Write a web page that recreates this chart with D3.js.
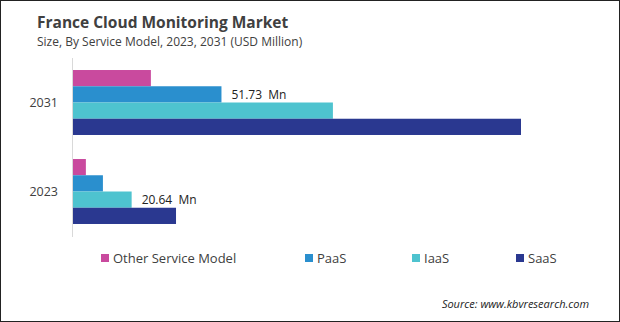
<!DOCTYPE html>
<html>
<head>
<meta charset="utf-8">
<script src="https://cdn.jsdelivr.net/npm/d3@7"></script>
<style>
  body { margin: 0; background: #fff; }
  svg { display: block; font-family: "Open Sans", "Noto Sans", sans-serif; }
</style>
</head>
<body>
<svg id="chart" width="620" height="322"></svg>
<script>
const years = ["2031", "2023"];
const series = ["Other Service Model", "PaaS", "IaaS", "SaaS"];
const colors = ["#c94a9e", "#2a8fce", "#4ec3cf", "#2a3890"];
// values per year, same order as series (USD Million)
const values2031 = [27.3, 51.73, 90.3, 155.4];
const values2023 = [4.8, 10.7, 20.64, 36.0];
const labels = [{year: "2031", series: "PaaS", text: "51.73  Mn"},
                {year: "2023", series: "IaaS", text: "20.64  Mn"}];

const data = years.map((y, i) => ({year: y, vals: i == 0 ? values2031 : values2023}));

const svg = d3.select("#chart");

// frame
svg.append("rect")
    .attr("x", 0.5).attr("y", 0.5)
    .attr("width", 619).attr("height", 321)
    .attr("fill", "#fff")
    .attr("stroke", "#222");

svg.append("text")
    .attr("x", 37).attr("y", 28)
    .attr("font-size", 15.5)
    .attr("font-weight", "bold")
    .attr("fill", "#404040")
    .text("France Cloud Monitoring Market");

svg.append("text")
    .attr("x", 37).attr("y", 46)
    .attr("font-size", 12)
    .attr("fill", "#404040")
    .text("Size, By Service Model, 2023, 2031 (USD Million)");

const x = d3.scaleLinear().domain([0, 155.4]).range([72, 521]);
const y0 = d3.scaleBand().domain(years).range([58, 236]).paddingInner(0.27).paddingOuter(0.135);
const y1 = d3.scaleBand().domain(series).range([0, y0.bandwidth()]);

const g = svg.append("g");

const grp = g.selectAll(".grp")
    .data(data)
    .enter()
    .append("g")
    .attr("transform", d => "translate(0," + y0(d.year) + ")");

grp.selectAll("rect")
    .data(d => d.vals.map((v, i) => ({s: series[i], v: v, c: colors[i]})))
    .enter()
    .append("rect")
    .attr("x", x(0))
    .attr("y", d => y1(d.s))
    .attr("width", d => x(d.v) - x(0))
    .attr("height", y1.bandwidth())
    .attr("fill", d => d.c);

// axis line
g.append("line")
    .attr("x1", 72.5).attr("x2", 72.5)
    .attr("y1", 58).attr("y2", 237)
    .attr("stroke", "#d9d9d9");

const yAxis = d3.axisLeft(y0).tickSize(0).tickPadding(14);
svg.append("g")
    .attr("transform", "translate(72,0)")
    .call(yAxis)
    .call(a => a.select(".domain").remove())
    .selectAll("text")
    .attr("font-family", "Open Sans, Noto Sans, sans-serif")
    .attr("font-size", 12.5)
    .attr("fill", "#404040");

// value labels
labels.forEach(l => {
    const d = data.find(e => e.year == l.year);
    const i = series.indexOf(l.series);
    svg.append("text")
        .attr("x", x(d.vals[i]) + 10)
        .attr("y", y0(l.year) + y1(l.series) + y1.bandwidth() / 2)
        .attr("dy", "0.35em")
        .attr("font-size", 12)
        .attr("fill", "#222")
        .style("white-space", "pre")
        .text(l.text);
});

// legend
const legX = [101, 305, 412, 516];
const leg = svg.append("g").selectAll("g")
    .data(series)
    .enter()
    .append("g")
    .attr("transform", (d, i) => "translate(" + legX[i] + ",254)");
leg.append("rect")
    .attr("width", 8).attr("height", 8)
    .attr("fill", (d, i) => colors[i]);
leg.append("text")
    .attr("x", 12).attr("y", 4)
    .attr("dy", "0.35em")
    .attr("font-size", 13)
    .attr("fill", "#404040")
    .text(d => d);

svg.append("text")
    .attr("x", 589).attr("y", 308)
    .attr("text-anchor", "end")
    .attr("font-size", 11)
    .attr("font-style", "italic")
    .attr("fill", "#222")
    .text("Source: www.kbvresearch.com");
</script>
</body>
</html>
